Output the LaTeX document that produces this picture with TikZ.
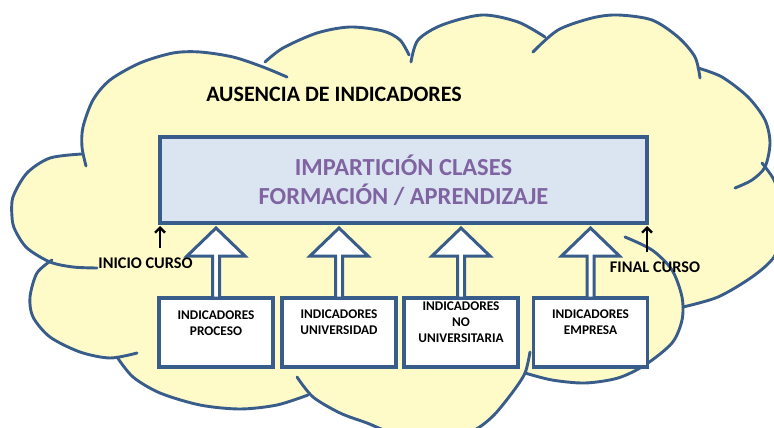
\documentclass[tikz,border=0pt]{standalone}
\usepackage{fontspec}
\setmainfont{Carlito}
\usetikzlibrary{arrows.meta,calc,backgrounds}

\definecolor{nube}{RGB}{255,251,201}
\definecolor{borde}{RGB}{56,93,138}
\definecolor{azulclaro}{RGB}{219,229,241}
\definecolor{morado}{RGB}{128,100,162}

\tikzset{
  nubelinea/.style={draw=borde, line width=2.9pt, line cap=round},
  rectimp/.style={draw=borde, fill=azulclaro, line width=3.2pt, outer sep=0pt,
    minimum width=487pt, minimum height=86pt, align=center, text=morado,
    font=\bfseries\fontsize{24.5}{29}\selectfont},
  caja/.style={draw=borde, fill=white, line width=3.2pt, outer sep=0pt,
    minimum width=114pt, minimum height=69pt},
  cajatexto/.style={align=center, inner sep=0pt, font=\bfseries\fontsize{13.3}{16}\selectfont},
  flechahueca/.style={draw=borde, fill=white, line width=3pt, line join=miter},
  flechita/.style={-{Straight Barb[length=5pt,width=10pt]}, line width=2.4pt, shorten >=3pt},
  etiqueta/.style={inner sep=0pt, font=\bfseries\fontsize{16.3}{19}\selectfont},
  titulo/.style={inner sep=0pt, font=\bfseries\fontsize{22}{26}\selectfont}
}

\newcommand{\lobulo}[1]{%
  \begin{pgfonlayer}{background}
    \fill[nube] (400,220) -- plot[smooth] coordinates {#1} -- cycle;
  \end{pgfonlayer}
  \draw[nubelinea] plot[smooth] coordinates {#1};
}

\newcommand{\flecha}[1]{%
  \draw[flechahueca] (#1.north) ++(-3.5,0) -- ++(0,-42) -- ++(-25.5,0) -- ++(29,-28)
    -- ++(29,28) -- ++(-25.5,0) -- ++(0,42) -- cycle;
}

\begin{document}
\begin{tikzpicture}[x=1pt, y=-1pt]
    \useasboundingbox (0,0) rectangle (774,428);

    \begin{pgfonlayer}{background}
      \fill[nube] (86,166) -- (287,77) -- (410,58) -- (545,37) -- (700,78) -- (735,188)
        -- (683,307) -- (525,373) -- (300,385) -- (137,353) -- (97,268) -- cycle;
    \end{pgfonlayer}
    \lobulo{(82,154) (50,158) (27,173) (13,197) (12,217) (15,230) (27,248) (50,262) (73,267) (97,268)}
    \lobulo{(86,166) (82,147) (83,127) (93,100) (110,80) (140,63) (173,53) (200,52) (233,57) (263,67) (287,77)}
    \lobulo{(265,62) (283,48) (317,33) (350,27) (383,31) (400,40) (409,55)}
    \lobulo{(411,62) (418,40) (442,25) (482,15) (518,22) (545,37)}
    \lobulo{(533,52) (558,30) (592,18) (618,15) (652,20) (678,37) (695,57) (700,78)}
    \lobulo{(698,68) (722,77) (748,97) (765,120) (770,143) (765,167) (752,180) (735,188)}
    \lobulo{(762,163) (774,180) (782,205) (783,230) (774,257) (752,277) (718,297) (683,307)}
    \lobulo{(625,237) (652,250) (672,270) (682,297) (682,320) (672,343) (645,365) (618,378) (585,383) (552,380) (525,373)}
    \lobulo{(530,352) (525,373) (512,393) (492,417) (470,432) (430,440) (390,432) (367,423) (340,413) (313,397) (297,377)}
    \lobulo{(117,357) (133,377) (160,393) (200,405) (240,409) (277,405) (308,395)}
    \lobulo{(52,260) (37,273) (30,297) (33,317) (50,337) (80,352) (110,358) (137,353)}

    \node[titulo] (ausencia) at (334,94) {AUSENCIA DE INDICADORES};
    \node[rectimp] (imp) at (403.5,180) {IMPARTICIÓN CLASES\\FORMACIÓN / APRENDIZAJE};

    \node[caja] (b1) at (216,332.5) {};
    \node[caja] (b2) at (339,332.5) {};
    \node[caja] (b3) at (461,332.5) {};
    \node[caja] (b4) at (590.5,332.5) {};

    \flecha{b1}
    \flecha{b2}
    \flecha{b3}
    \flecha{b4}

    \node[cajatexto] (t1) at ([yshift=9pt]b1.center) {INDICADORES\\PROCESO};
    \node[cajatexto] (t2) at ([yshift=10pt]b2.center) {INDICADORES\\UNIVERSIDAD};
    \node[cajatexto] (t3) at ([yshift=10pt]b3.center) {INDICADORES\\NO\\UNIVERSITARIA};
    \node[cajatexto] (t4) at ([yshift=10pt]b4.center) {INDICADORES\\EMPRESA};

    \coordinate (ini) at (160,248);
    \coordinate (fin) at (647,252);
    \draw[flechita] (ini) -- (ini |- imp.south);
    \draw[flechita] (fin) -- (fin |- imp.south);
    \node[etiqueta] (inicio) at (145.5,263) {INICIO CURSO};
    \node[etiqueta] (final) at (655,267) {FINAL CURSO};
\end{tikzpicture}
\end{document}
